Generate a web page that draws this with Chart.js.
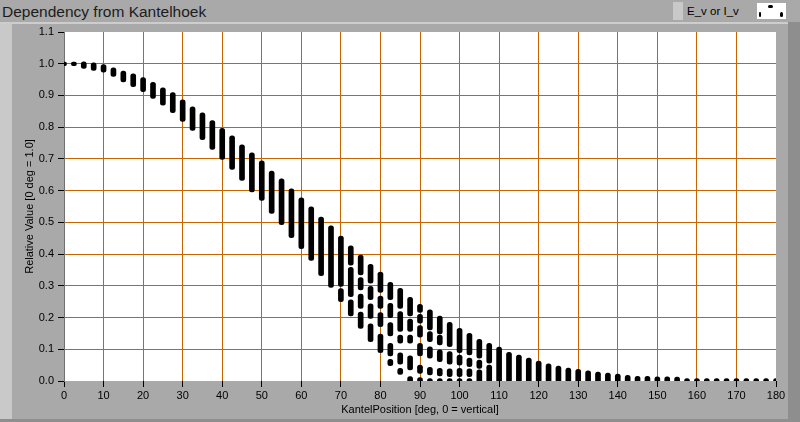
<!DOCTYPE html>
<html>
<head>
<meta charset="utf-8">
<script src="https://cdn.jsdelivr.net/npm/chart.js@4"></script>
<style>
  body { margin: 0; width: 800px; height: 422px; overflow: hidden; background: #a9a9a9; position: relative; font-family: "Liberation Sans", Arial, sans-serif; }
  .abs { position: absolute; }
  #title { left: 2px; top: 3px; font-size: 15.5px; line-height: 18px; color: #1c1c1c; white-space: nowrap; }
  #leftStrip { left: 0; top: 22px; width: 12px; height: 400px; background: #c9c9c9; }
  #topStrip { left: 0; top: 22px; width: 788px; height: 2px; background: #cdcdcd; }
  #rightStrip { left: 788px; top: 22px; width: 12px; height: 400px; background: #8e8e8e; }
  #bottomStrip { left: 0; top: 419px; width: 800px; height: 3px; background: #8e8e8e; }
  #legend { left: 673px; top: 2px; width: 104px; height: 18px; background: #a9a9a9; border-left: 10px solid #c9c9c9; }
  #legendText { left: 687px; top: 5px; font-size: 11.5px; line-height: 13px; color: #000; white-space: nowrap; }
  #legendBox { left: 757px; top: 3px; width: 29px; height: 16px; background: #fff; }
  .dot { position: absolute; background: #000; border-radius: 2px; }
  #wrap { left: 0; top: 0; width: 800px; height: 422px; }
</style>
</head>
<body>
<div class="abs" id="leftStrip"></div>
<div class="abs" id="topStrip"></div>
<div class="abs" id="rightStrip"></div>
<div class="abs" id="bottomStrip"></div>
<div class="abs" id="title">Dependency from Kantelhoek</div>
<div class="abs" id="legend"></div>
<div class="abs" id="legendText">E_v or I_v</div>
<div class="abs" id="legendBox"></div>
<div class="dot" style="left:768px;top:5px;width:5px;height:3px"></div>
<div class="dot" style="left:759px;top:12px;width:2px;height:5px"></div>
<div class="dot" style="left:780px;top:12px;width:3px;height:5px"></div>
<div class="abs" id="wrap"><canvas id="chart" width="800" height="422"></canvas></div>
<script>
// tilt angles (deg), one column of measured dots each
const angles = [0, 2.5, 5, 7.5, 10, 12.5, 15, 17.5, 20, 22.5, 25, 27.5, 30, 32.5, 35, 37.5, 40, 42.5, 45, 47.5,
  50, 52.5, 55, 57.5, 60, 62.5, 65, 67.5, 70, 72.5, 75, 77.5, 80, 82.5, 85, 87.5, 90, 92.5, 95, 97.5,
  100, 102.5, 105, 107.5, 110, 112.5, 115, 117.5, 120, 122.5, 125, 127.5, 130, 132.5, 135, 137.5, 140, 142.5, 145, 147.5,
  150, 152.5, 155, 157.5, 160, 162.5, 165, 167.5, 170, 172.5, 175, 177.5, 180];

// each column is a stack of dots; runs of touching dots kept as [top, bottom]
// seg1 = upper run, seg2..seg6 = runs that split off below it at larger angles
const seg1 = [
  [1.005, 0.994], [1.005, 0.994], [1.006, 0.985], [1.003, 0.979], [0.997, 0.973], [0.987, 0.960], [0.977, 0.943], [0.968, 0.928],
  [0.956, 0.912], [0.941, 0.891], [0.924, 0.869], [0.909, 0.846], [0.886, 0.818], [0.864, 0.790], [0.845, 0.761], [0.821, 0.730],
  [0.796, 0.698], [0.773, 0.667], [0.744, 0.632], [0.719, 0.596], [0.694, 0.569], [0.662, 0.528], [0.637, 0.493], [0.606, 0.452],
  [0.577, 0.417], [0.549, 0.380], [0.517, 0.332], [0.489, 0.295], [0.457, 0.298], [0.426, 0.365], [0.397, 0.334], [0.368, 0.308],
  [0.343, 0.279], [0.311, 0.256], [0.292, 0.229], [0.264, 0.205], [0.242, 0.216], [0.224, 0.161], [0.205, 0.148], [0.185, 0.108],
  [0.166, 0.089], [0.150, 0.082], [0.131, 0.072], [0.119, 0.056], [0.107, -0.008], [0.090, -0.008], [0.082, -0.008], [0.072, -0.008],
  [0.063, -0.008], [0.054, -0.008], [0.047, -0.008], [0.041, -0.008], [0.037, -0.008], [0.032, -0.008], [0.028, -0.008], [0.025, -0.008],
  [0.022, -0.008], [0.018, -0.008], [0.015, -0.008], [0.015, -0.008], [0.013, -0.008], [0.013, -0.008], [0.012, -0.008], [0.008, -0.008],
  [0.008, -0.008], [0.008, -0.008], [0.008, -0.008], [0.008, -0.008], [0.008, -0.008], [0.008, -0.008], [0.008, -0.008], [0.008, -0.008],
  [0.008, -0.008]
];
const seg2 = [
  null, null, null, null, null, null, null, null, null, null, null, null, null, null, null, null,
  null, null, null, null, null, null, null, null, null, null, null, null,
  [0.291, 0.250], [0.358, 0.266], [0.326, 0.287], [0.298, 0.256], [0.268, 0.229], [0.245, 0.200], [0.219, 0.156], [0.195, 0.156],
  [0.210, 0.182], [0.156, 0.124], [0.145, 0.114], [0.093, 0.053], [0.082, 0.050], [0.072, 0.045], [0.066, 0.040], [0.050, -0.008]
];
const seg3 = [
  null, null, null, null, null, null, null, null, null, null, null, null, null, null, null, null,
  null, null, null, null, null, null, null, null, null, null, null, null, null,
  [0.256, 0.205], [0.274, 0.229], [0.243, 0.197], [0.216, 0.171], [0.184, 0.142], [0.145, 0.119], [0.145, 0.119],
  [0.175, 0.138], [0.108, 0.072], [0.098, 0.061], [0.038, 0.014], [0.040, 0.014], [0.038, 0.014], [0.035, -0.008]
];
const seg4 = [
  null, null, null, null, null, null, null, null, null, null, null, null, null, null, null, null,
  null, null, null, null, null, null, null, null, null, null, null, null, null, null,
  [0.217, 0.166], [0.180, 0.124], [0.148, 0.089], [0.119, 0.079], [0.089, 0.053], [0.079, 0.035],
  [0.119, 0.079], [0.043, 0.019], [0.040, 0.016], [0.008, -0.008], [0.008, -0.008], [0.008, -0.008]
];
const seg5 = [
  null, null, null, null, null, null, null, null, null, null, null, null, null, null, null, null,
  null, null, null, null, null, null, null, null, null, null, null, null, null, null, null, null, null,
  [0.068, 0.048], [0.040, 0.021], [0.014, -0.008], [0.050, 0.024], [0.008, -0.008], [0.008, -0.008]
];
const seg6 = [
  null, null, null, null, null, null, null, null, null, null, null, null, null, null, null, null,
  null, null, null, null, null, null, null, null, null, null, null, null, null, null, null, null, null, null, null, null,
  [0.011, -0.008]
];

const xTicks = { min: 0, max: 180, step: 10 };
const yTicks = { min: 0, max: 1.1, step: 0.1 };

const ORANGE = "#c86400";

function toPoints(seg) {
  const out = [];
  seg.forEach((s, i) => { if (s) out.push({ x: angles[i], y: [s[1], s[0]] }); });
  return out;
}

// no grid line on the outer edges of the plot
function gridColor(lim) {
  return ctx => {
    const v = ctx.tick ? ctx.tick.value : null;
    return (v !== null && (Math.abs(v - lim.min) < 1e-6 || Math.abs(v - lim.max) < 1e-6)) ? "rgba(0,0,0,0)" : ORANGE;
  };
}

const plotBg = {
  id: "plotBg",
  beforeDraw(chart) {
    const { ctx, chartArea: a } = chart;
    ctx.save();
    ctx.fillStyle = "#fff";
    ctx.fillRect(a.left, a.top, a.right - a.left, a.bottom - a.top);
    ctx.restore();
  }
};

const datasets = [seg1, seg2, seg3, seg4, seg5, seg6].map((seg, i) => ({
  label: "E_v or I_v " + (i + 1),
  data: toPoints(seg),
  backgroundColor: "#000",
  barThickness: 5,
  borderRadius: 3,
  borderSkipped: false,
  grouped: false,
  clip: 0
}));

new Chart(document.getElementById("chart"), {
  type: "bar",
  data: { datasets: datasets },
  plugins: [plotBg],
  options: {
    responsive: false,
    animation: false,
    layout: { padding: { top: 32, right: 24, left: 0, bottom: 0 } },
    plugins: { legend: { display: false }, tooltip: { enabled: false } },
    scales: {
      x: {
        type: "linear",
        offset: false,
        min: xTicks.min,
        max: xTicks.max,
        afterFit: s => { s.height = 41; },
        grid: { color: gridColor(xTicks), offset: false, tickLength: 6, tickColor: "#000" },
        border: { display: false },
        ticks: { stepSize: xTicks.step, padding: 2, color: "#000", font: { family: "Liberation Sans", size: 11 }, maxRotation: 0 },
        title: { display: true, text: "KantelPosition [deg, 0 = vertical]", color: "#000",
          font: { family: "Liberation Sans", size: 11 }, padding: { top: 0, bottom: 5 } }
      },
      y: {
        min: yTicks.min,
        max: yTicks.max,
        afterFit: s => { s.width = 64; },
        grid: { color: gridColor(yTicks), tickLength: 6, tickColor: "#000" },
        border: { color: "#707070" },
        ticks: { stepSize: yTicks.step, padding: 4, color: "#000", font: { family: "Liberation Sans", size: 11 },
          callback: v => v.toFixed(1) },
        title: { display: true, text: "Relative Value [0 deg = 1.0]", color: "#000",
          font: { family: "Liberation Sans", size: 11 }, padding: { top: 23, bottom: 0 } }
      }
    }
  }
});
</script>
</body>
</html>
